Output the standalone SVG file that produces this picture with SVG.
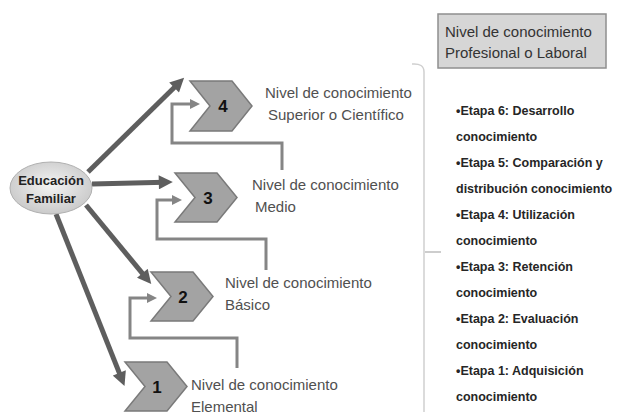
<svg xmlns="http://www.w3.org/2000/svg" width="620" height="415" viewBox="0 0 620 415">
<style>
.lbl{font-family:"Liberation Sans",Arial,sans-serif;font-size:15px;fill:#505050}
.lst{font-family:"Liberation Sans",Arial,sans-serif;font-size:12.5px;font-weight:bold;fill:#262626}
.num{font-family:"Liberation Sans",Arial,sans-serif;font-size:17px;font-weight:bold;fill:#111;text-anchor:middle}
.chev{fill:#a3a3a3;stroke:#7a7a7a;stroke-width:1.5}
.big{fill:none;stroke:#5e5e5e;stroke-width:5;marker-end:url(#ah)}
.fb{fill:none;stroke:#858585;stroke-width:3;marker-end:url(#ahs)}
</style>
<defs>
<marker id="ah" viewBox="0 0 10 10" refX="4" refY="5" markerWidth="16" markerHeight="14" markerUnits="userSpaceOnUse" orient="auto"><path d="M0,0 L10,5 L0,10 z" fill="#5e5e5e"/></marker>
<marker id="ahs" viewBox="0 0 10 10" refX="4" refY="5" markerWidth="11" markerHeight="10" markerUnits="userSpaceOnUse" orient="auto"><path d="M0,0 L10,5 L0,10 z" fill="#858585"/></marker>
<radialGradient id="eg" cx="0.5" cy="0.45" r="0.6"><stop offset="0" stop-color="#f4f4f4"/><stop offset="1" stop-color="#c6c6c6"/></radialGradient>
</defs>
<rect width="620" height="415" fill="#fff"/>
<g id="connectors">
<path class="big" d="M88,172 L178.1,83.7"/>
<path class="big" d="M92,184 L164.4,182.2"/>
<path class="big" d="M86,205 L145.9,277.6"/>
<path class="big" d="M56,214 L121.4,378.1"/>
<path class="fb" d="M237,368 V338 H130 V298 H151"/>
<path class="fb" d="M266,270 V239 H157 V200 H176"/>
<path class="fb" d="M282,170 V143 H172 V104 H194"/>
<path d="M412,64 Q424,63 424,72 V412" fill="none" stroke="#cfcfcf" stroke-width="1.5"/>
<path d="M425,252 H441" fill="none" stroke="#bdbdbd" stroke-width="1.5"/>
</g>
<g id="educacion">
<ellipse cx="51" cy="188" rx="41" ry="26" fill="url(#eg)" stroke="#b0b0b0" stroke-width="1"/>
<text x="51" y="184.5" text-anchor="middle" style="font-family:'Liberation Sans',Arial,sans-serif;font-size:13px;font-weight:bold;fill:#222">Educación</text>
<text x="51" y="202.5" text-anchor="middle" style="font-family:'Liberation Sans',Arial,sans-serif;font-size:13px;font-weight:bold;fill:#222">Familiar</text>
</g>
<g id="nivel4">
<polygon class="chev" points="190,81 232,81 252,106 232,131 190,131 210,106"/>
<text class="num" x="223" y="112">4</text>
<text class="lbl" x="265" y="98">Nivel de conocimiento</text>
<text class="lbl" x="268" y="120">Superior o Científico</text>
</g>
<g id="nivel3">
<polygon class="chev" points="175,173 217,173 237,197.5 217,222 175,222 195,197.5"/>
<text class="num" x="208" y="204">3</text>
<text class="lbl" x="252" y="190">Nivel de conocimiento</text>
<text class="lbl" x="255" y="212">Medio</text>
</g>
<g id="nivel2">
<polygon class="chev" points="151,272 193,272 213,296.5 193,321 151,321 171,296.5"/>
<text class="num" x="183" y="303">2</text>
<text class="lbl" x="225" y="288">Nivel de conocimiento</text>
<text class="lbl" x="225" y="310">Básico</text>
</g>
<g id="nivel1">
<polygon class="chev" points="125,362 167,362 187,386.5 167,411 125,411 145,386.5"/>
<text class="num" x="157" y="393">1</text>
<text class="lbl" x="191" y="390">Nivel de conocimiento</text>
<text class="lbl" x="191" y="412">Elemental</text>
</g>
<g id="profesional">
<rect x="438" y="14" width="168" height="54" fill="#d6d6d6" stroke="#8f8f8f" stroke-width="1.5"/>
<text class="lbl" x="445" y="37" style="fill:#333">Nivel de conocimiento</text>
<text class="lbl" x="445" y="58" style="fill:#333">Profesional o Laboral</text>
</g>
<g id="etapas">
<text class="lst" x="456" y="114.5">•Etapa 6: Desarrollo</text>
<text class="lst" x="456" y="140.5">conocimiento</text>
<text class="lst" x="456" y="166.5">•Etapa 5: Comparación y</text>
<text class="lst" x="456" y="192.5">distribución conocimiento</text>
<text class="lst" x="456" y="218.5">•Etapa 4: Utilización</text>
<text class="lst" x="456" y="244.5">conocimiento</text>
<text class="lst" x="456" y="270.5">•Etapa 3: Retención</text>
<text class="lst" x="456" y="296.5">conocimiento</text>
<text class="lst" x="456" y="322.5">•Etapa 2: Evaluación</text>
<text class="lst" x="456" y="348.5">conocimiento</text>
<text class="lst" x="456" y="374.5">•Etapa 1: Adquisición</text>
<text class="lst" x="456" y="400.5">conocimiento</text>
</g>
</svg>
